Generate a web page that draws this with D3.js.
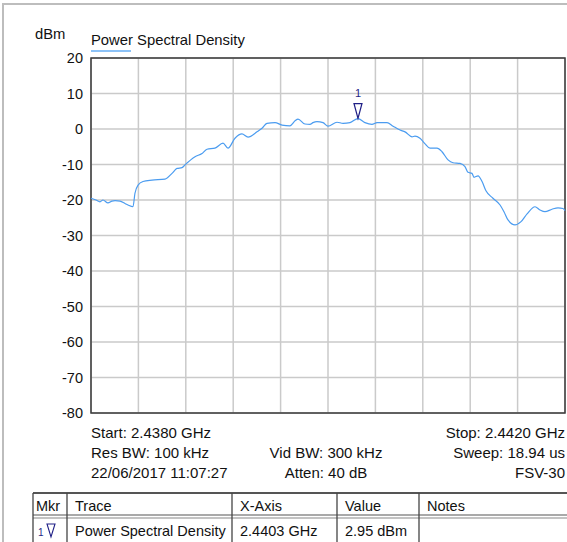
<!doctype html>
<html>
<head>
<meta charset="UTF-8">
<title>PSD</title>
<script src="https://d3js.org/d3.v7.min.js"></script>
<style>
  body { margin: 0; background: #fff; }
  svg { display: block; font-family: "Liberation Sans", Arial, Helvetica, sans-serif; }
</style>
</head>
<body>
<script>
// trace: frequency (MHz) and level (dBm)
var freqMHz = [2438.000, 2438.042, 2438.076, 2438.101, 2438.143, 2438.177, 2438.203, 2438.245, 2438.287, 2438.312,
  2438.354, 2438.371, 2438.397, 2438.439, 2438.515, 2438.624, 2438.684, 2438.726, 2438.768, 2438.793,
  2438.878, 2438.937, 2438.979, 2439.046, 2439.114, 2439.156, 2439.215, 2439.274, 2439.325, 2439.401,
  2439.443, 2439.485, 2439.553, 2439.612, 2439.679, 2439.722, 2439.747, 2439.806, 2439.848, 2439.873,
  2439.907, 2439.958, 2440.000, 2440.076, 2440.127, 2440.186, 2440.253, 2440.312, 2440.371, 2440.414,
  2440.498, 2440.549, 2440.608, 2440.650, 2440.709, 2440.734, 2440.776, 2440.819, 2440.861, 2440.920,
  2440.962, 2441.013, 2441.055, 2441.114, 2441.156, 2441.181, 2441.215, 2441.232, 2441.266, 2441.300,
  2441.333, 2441.392, 2441.452, 2441.485, 2441.519, 2441.578, 2441.629, 2441.680, 2441.747, 2441.789,
  2441.831, 2441.890, 2441.941, 2441.983, 2442.000];
var psdDbm = [-19.5, -20.0, -20.5, -20.0, -20.8, -20.3, -20.2, -20.3, -21.0, -21.4,
  -21.9, -18.1, -15.8, -14.8, -14.4, -14.1, -12.5, -11.1, -10.9, -10.1,
  -7.8, -6.9, -5.7, -5.4, -4.0, -5.4, -2.6, -1.4, -2.3, -0.8,
  0.2, 1.6, 1.8, 1.1, 0.9, 2.3, 2.8, 1.4, 1.3, 1.8,
  2.1, 1.8, 0.8, 1.9, 1.6, 1.8, 2.95, 1.8, 1.3, 1.8,
  1.8, 0.8, -0.3, -0.8, -2.2, -2.0, -2.6, -4.2, -5.4, -5.4,
  -6.4, -8.7, -9.5, -9.7, -10.6, -12.2, -12.5, -13.6, -13.2, -14.8,
  -17.4, -19.5, -21.4, -23.3, -25.6, -27.0, -26.1, -23.9, -21.9, -22.8,
  -23.3, -22.6, -22.2, -22.4, -23.0];

var yTicks = [20, 10, 0, -10, -20, -30, -40, -50, -60, -70, -80];
var xGrid = [2438.0, 2438.4, 2438.8, 2439.2, 2439.6, 2440.0, 2440.4, 2440.8, 2441.2, 2441.6, 2442.0];
var markerFreq = 2440.253, markerLevel = 2.95, markerLabel = "1";

var infoLeft = ["Start: 2.4380 GHz", "Res BW: 100 kHz", "22/06/2017 11:07:27"];
var infoMid = ["", "Vid BW: 300 kHz", "Atten: 40 dB"];
var infoRight = ["Stop: 2.4420 GHz", "Sweep: 18.94 us", "FSV-30"];

var tableHead = ["Mkr", "Trace", "X-Axis", "Value", "Notes"];
var tableRow = ["", "Power Spectral Density", "2.4403 GHz", "2.95 dBm", ""];
var colEdges = [33, 67, 232, 337, 419, 600];

var W = 567, H = 542;
var pLeft = 91, pRight = 565, pTop = 58, pBottom = 413;
var traceColor = "#4b9cf0", markColor = "#1f1f86";

var svg = d3.select("body").append("svg").attr("width", W).attr("height", H);

// outer frame
svg.append("path").attr("d", "M3,542V4H567").attr("fill", "none").attr("stroke", "#bdbdbd").attr("stroke-width", 2);

var x = d3.scaleLinear().domain([2438, 2442]).range([pLeft, pRight]);
var y = d3.scaleLinear().domain([-80, 20]).range([pBottom, pTop]);

// grid
svg.append("g").selectAll("line").data(xGrid).enter().append("line")
  .attr("x1", function(d){ return x(d); }).attr("x2", function(d){ return x(d); })
  .attr("y1", pTop).attr("y2", pBottom)
  .attr("stroke", "#cacaca").attr("stroke-width", 1.5);
svg.append("g").selectAll("line").data(yTicks).enter().append("line")
  .attr("x1", pLeft).attr("x2", pRight)
  .attr("y1", function(d){ return y(d); }).attr("y2", function(d){ return y(d); })
  .attr("stroke", "#cacaca").attr("stroke-width", 1.5);

// frame
svg.append("rect").attr("x", pLeft).attr("y", pTop).attr("width", pRight - pLeft).attr("height", pBottom - pTop)
  .attr("fill", "none").attr("stroke", "#3a3a3a").attr("stroke-width", 1.5);

// y axis labels (plain hyphen minus like the analyzer)
var yAxis = svg.append("g").attr("transform", "translate(" + (pLeft - 8) + ",0)")
  .call(d3.axisLeft(y).tickValues(yTicks).tickSize(0).tickPadding(0)
    .tickFormat(function(d){ return String(d); }));
yAxis.select(".domain").remove();
yAxis.selectAll("text").attr("font-size", 14.5).attr("fill", "#111").attr("font-family", null);

svg.append("text").attr("x", 35).attr("y", 39).attr("font-size", 14.8).attr("fill", "#111").text("dBm");
svg.append("text").attr("x", 91).attr("y", 45).attr("font-size", 14.8).attr("fill", "#111").text("Power Spectral Density");
svg.append("line").attr("x1", 91).attr("x2", 131).attr("y1", 51).attr("y2", 51)
  .attr("stroke", "#8cc2f7").attr("stroke-width", 2);

// trace
var pts = freqMHz.map(function(f, i){ return [f, psdDbm[i]]; });
svg.append("path").datum(pts)
  .attr("d", d3.line().x(function(d){ return x(d[0]); }).y(function(d){ return y(d[1]); }).curve(d3.curveMonotoneX))
  .attr("fill", "none").attr("stroke", traceColor).attr("stroke-width", 1.2);

// marker
var mx = x(markerFreq), my = y(markerLevel);
svg.append("path").attr("d", "M" + (mx - 4) + "," + (my - 15) + "H" + (mx + 4) + "L" + mx + "," + my + "Z")
  .attr("fill", "none").attr("stroke", markColor).attr("stroke-width", 1.2);
svg.append("text").attr("x", mx).attr("y", my - 22).attr("text-anchor", "middle")
  .attr("font-size", 11).attr("fill", markColor).text(markerLabel);

// info lines under plot
var rowsY = [438, 458, 478];
infoLeft.forEach(function(t, i){
  svg.append("text").attr("x", pLeft).attr("y", rowsY[i]).attr("font-size", 15).attr("fill", "#111").text(t);
});
infoMid.forEach(function(t, i){
  svg.append("text").attr("x", 326).attr("y", rowsY[i]).attr("text-anchor", "middle").attr("font-size", 15).attr("fill", "#111").text(t);
});
infoRight.forEach(function(t, i){
  svg.append("text").attr("x", pRight).attr("y", rowsY[i]).attr("text-anchor", "end").attr("font-size", 15).attr("fill", "#111").text(t);
});

// marker table
var tg = svg.append("g");
tg.append("line").attr("x1", 33).attr("x2", 567).attr("y1", 493).attr("y2", 493).attr("stroke", "#555").attr("stroke-width", 2);
tg.append("line").attr("x1", 33).attr("x2", 567).attr("y1", 515).attr("y2", 515).attr("stroke", "#555").attr("stroke-width", 1.2);
tg.append("line").attr("x1", 33).attr("x2", 567).attr("y1", 518).attr("y2", 518).attr("stroke", "#888").attr("stroke-width", 1.2);
colEdges.slice(0, 5).forEach(function(cx){
  tg.append("line").attr("x1", cx).attr("x2", cx).attr("y1", 493).attr("y2", 542).attr("stroke", "#444").attr("stroke-width", 1.3);
});
tableHead.forEach(function(t, i){
  tg.append("text").attr("x", colEdges[i] + (i === 0 ? 3 : 8)).attr("y", 511).attr("font-size", 14.5).attr("fill", "#111").text(t);
});
tableRow.forEach(function(t, i){
  tg.append("text").attr("x", colEdges[i] + 8).attr("y", 536).attr("font-size", 14.5).attr("fill", "#111").text(t);
});
tg.append("text").attr("x", 38).attr("y", 536).attr("font-size", 10).attr("fill", markColor).text(markerLabel);
tg.append("path").attr("d", "M47,524H55L51,537Z").attr("fill", "none").attr("stroke", markColor).attr("stroke-width", 1.1);
</script>
</body>
</html>
